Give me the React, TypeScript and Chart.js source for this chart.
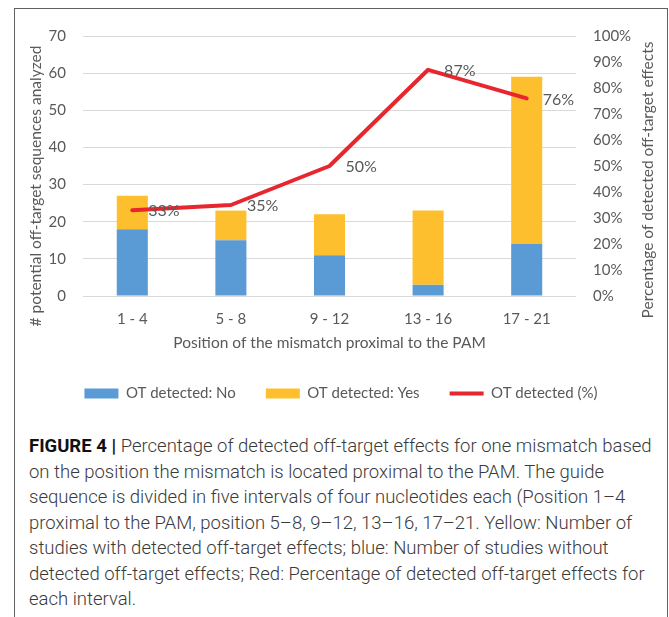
import React, { useEffect, useRef } from "react";
import { Chart, registerables } from "chart.js";

Chart.register(...registerables);

// ---- data ----
const categories = ["1 - 4", "5 - 8", "9 - 12", "13 - 16", "17 - 21"];
const detectedNo = [18, 15, 11, 3, 14];
const detectedYes = [9, 8, 11, 20, 45];
const detectedPct = [33, 35, 50, 87, 76];
const seriesNames = ["OT detected: No", "OT detected: Yes", "OT detected (%)"];
const leftAxis = { min: 0, max: 70, step: 10 };
const rightAxis = { min: 0, max: 100, step: 10 };
const xTitle = "Position of the mismatch proximal to the PAM";
const yTitle = "# potential off-target sequences analyzed";
const y1Title = "Percentage of detected off-target effects";
const captionLines = [
  "Percentage of detected off-target effects for one mismatch based",
  "on the position the mismatch is located proximal to the PAM. The guide",
  "sequence is divided in five intervals of four nucleotides each (Position 1–4",
  "proximal to the PAM, position 5–8, 9–12, 13–16, 17–21. Yellow: Number of",
  "studies with detected off-target effects; blue: Number of studies without",
  "detected off-target effects; Red: Percentage of detected off-target effects for",
  "each interval.",
];
const captionLabel = "FIGURE 4 |";

// ---- style ----
const FONT = "Lato, 'Open Sans', sans-serif";
const TEXT = "#595959";
const BLUE = "#5B9BD5";
const YELLOW = "#FDBF2D";
const RED = "#E8262D";
const GRID = "#D9D9D9";

const extrasPlugin = {
  id: "extras",
  afterDatasetsDraw(chart: any) {
    const ctx = chart.ctx;
    const meta = chart.getDatasetMeta(2);
    ctx.save();
    ctx.font = `16px ${FONT}`;
    ctx.fillStyle = TEXT;
    ctx.textAlign = "left";
    ctx.textBaseline = "middle";
    meta.data.forEach((pt: any, i: number) => {
      ctx.fillText(detectedPct[i] + "%", pt.x + 16, pt.y + 1);
    });
    ctx.restore();
  },
  afterDraw(chart: any) {
    const ctx = chart.ctx;
    const ca = chart.chartArea;
    const mid = (ca.top + ca.bottom) / 2;
    ctx.save();
    ctx.font = `15.5px ${FONT}`;
    ctx.fillStyle = TEXT;
    ctx.textAlign = "center";
    ctx.textBaseline = "middle";
    ctx.save();
    ctx.translate(chart.scales.y.left + 21, mid + 20);
    ctx.rotate(-Math.PI / 2);
    ctx.fillText(yTitle, 0, 0);
    ctx.restore();
    ctx.save();
    ctx.translate(chart.scales.y1.right - 19, mid + 14);
    ctx.rotate(-Math.PI / 2);
    ctx.fillText(y1Title, 0, 0);
    ctx.restore();
    ctx.restore();
  },
};

export default function App() {
  const ref = useRef<HTMLCanvasElement>(null);

  useEffect(() => {
    const chart = new Chart(ref.current as HTMLCanvasElement, {
      type: "bar",
      data: {
        labels: categories,
        datasets: [
          {
            type: "bar",
            label: seriesNames[0],
            data: detectedNo,
            backgroundColor: BLUE,
            borderWidth: 0,
            yAxisID: "y",
            stack: "bars",
            order: 1,
            pointStyle: "rect",
            barPercentage: 0.315,
            categoryPercentage: 1,
          } as any,
          {
            type: "bar",
            label: seriesNames[1],
            data: detectedYes,
            backgroundColor: YELLOW,
            borderWidth: 0,
            yAxisID: "y",
            stack: "bars",
            order: 1,
            pointStyle: "rect",
            barPercentage: 0.315,
            categoryPercentage: 1,
          } as any,
          {
            type: "line",
            label: seriesNames[2],
            data: detectedPct,
            borderColor: RED,
            backgroundColor: RED,
            borderWidth: 4,
            pointRadius: 0,
            pointStyle: "line",
            tension: 0,
            borderCapStyle: "round",
            borderJoinStyle: "round",
            yAxisID: "y1",
            stack: "line",
            order: 0,
          } as any,
        ],
      },
      options: {
        responsive: false,
        devicePixelRatio: 1,
        animation: false,
        layout: { padding: { top: 22, left: 0, right: 0, bottom: 0 } },
        plugins: {
          tooltip: { enabled: false },
          legend: {
            position: "bottom",
            labels: {
              usePointStyle: true,
              pointStyleWidth: 34,
              boxHeight: 10,
              padding: 30,
              color: TEXT,
              font: { family: FONT, size: 15 },
              sort: (a: any, b: any) => a.datasetIndex - b.datasetIndex,
            },
          },
        },
        scales: {
          x: {
            stacked: true,
            grid: { display: false, drawTicks: false },
            border: { display: false },
            ticks: { color: TEXT, font: { family: FONT, size: 15 }, padding: 14 },
            title: {
              display: true,
              text: xTitle,
              color: TEXT,
              font: { family: FONT, size: 15.5 },
              padding: { top: 0, bottom: 3.7 },
            },
            afterFit: (s: any) => {
              s.height = 60;
            },
          },
          y: {
            position: "left",
            stacked: true,
            min: leftAxis.min,
            max: leftAxis.max,
            grid: { color: GRID, lineWidth: 1, drawTicks: false },
            border: { display: false },
            ticks: {
              stepSize: leftAxis.step,
              color: TEXT,
              font: { family: FONT, size: 15 },
              padding: 17,
            },
            afterFit: (s: any) => {
              s.width = 68;
            },
          },
          y1: {
            position: "right",
            stacked: false,
            min: rightAxis.min,
            max: rightAxis.max,
            grid: { display: false, drawTicks: false },
            border: { display: false },
            ticks: {
              stepSize: rightAxis.step,
              color: TEXT,
              font: { family: FONT, size: 15 },
              padding: 17,
              callback: (v: any) => v + "%",
            },
            afterFit: (s: any) => {
              s.width = 91;
            },
          },
        },
      },
      plugins: [extrasPlugin],
    });
    return () => chart.destroy();
  }, []);

  return (
    <div
      style={{
        position: "fixed",
        left: 0,
        top: 0,
        width: 669,
        height: 617,
        overflow: "hidden",
        background: "#fff",
      }}
    >
      <div
        style={{
          position: "absolute",
          left: 14,
          top: 8,
          width: 652,
          height: 640,
          border: "1px solid #606060",
          borderBottom: "none",
        }}
      />
      <div style={{ position: "absolute", left: 15, top: 10, width: 652, height: 401 }}>
        <canvas ref={ref} width={652} height={401} style={{ width: 652, height: 401, display: "block" }} />
      </div>
      <div
        style={{
          position: "absolute",
          left: 29,
          top: 434,
          width: 636,
          fontFamily: "Roboto, 'Liberation Sans', sans-serif",
          fontWeight: 300,
          fontSize: 18.5,
          lineHeight: "25.5px",
          color: "#3a3a3a",
          whiteSpace: "nowrap",
        }}
      >
        {captionLines.map((line, i) => (
          <div key={i}>
            {i === 0 ? (
              <>
                <span style={{ fontWeight: 700, color: "#111" }}>{captionLabel}</span>{" "}
              </>
            ) : null}
            {line}
          </div>
        ))}
      </div>
    </div>
  );
}
